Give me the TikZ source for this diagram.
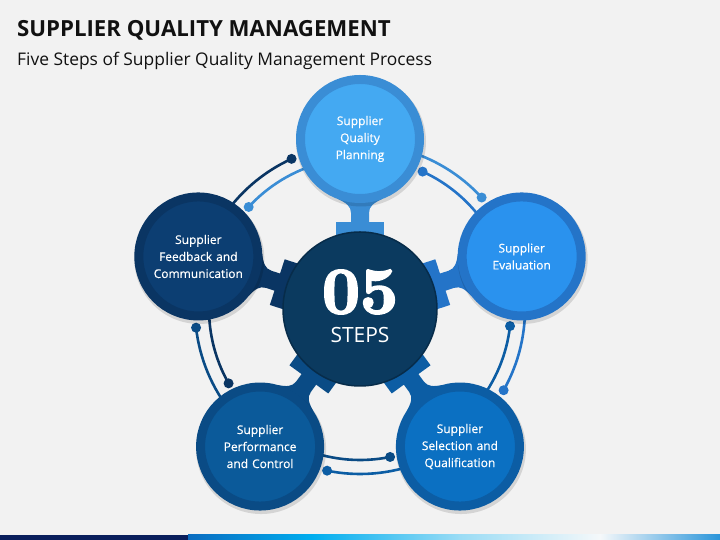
\documentclass[tikz,border=0pt]{standalone}
\usepackage{fontspec}
\newfontfamily\osans{Open Sans}
\newfontfamily\osemi{Open Sans}[FakeBold=0.5]
\newfontfamily\numfont{lmroman10-bold}[Extension=.otf, FakeBold=3]
\usetikzlibrary{calc}
\definecolor{bg}{HTML}{F2F2F2}
\definecolor{titlec}{HTML}{111111}
\definecolor{r1}{HTML}{3A8DD5}\definecolor{f1}{HTML}{44A9F2}
\definecolor{r2}{HTML}{2474C8}\definecolor{f2}{HTML}{2A92EE}
\definecolor{r3}{HTML}{0C5DA4}\definecolor{f3}{HTML}{0B70C2}
\definecolor{r4}{HTML}{0A4B85}\definecolor{f4}{HTML}{0B5A9A}
\definecolor{r5}{HTML}{0A3563}\definecolor{f5}{HTML}{0C3E72}
\definecolor{cfill}{HTML}{0B3A5F}\definecolor{cborder}{HTML}{072C4A}
\definecolor{bnavy}{HTML}{0A1F5C}
\definecolor{g1}{HTML}{0A6CC0}\definecolor{g2}{HTML}{00AEEF}
\definecolor{g3}{HTML}{9ADCF5}\definecolor{g4}{HTML}{F5F8FA}\definecolor{g5}{HTML}{2A95DA}
\tikzset{
  stepcirc/.style={circle, minimum size=119pt, inner sep=0pt, line width=9pt,
    text width=100pt, align=center, text=white, font=\osemi\fontsize{12}{17}\selectfont},
  linkline/.style={line width=2.6pt}
}
\newcommand\linkpair[3]{%
  \draw[linkline, #2] ($(C)+({#1-15}:165)$) arc[start angle={#1-15}, end angle={#1-72+24.5}, radius=165];
  \fill[#2] ($(C)+({#1-72+24.5}:165)$) circle (5);
  \draw[linkline, #3] ($(C)+({#1-24.5}:151)$) arc[start angle={#1-24.5}, end angle={#1-72+15}, radius=151];
  \fill[#3] ($(C)+({#1-24.5}:151)$) circle (5);
}
\newcommand\neckshape[2]{%
  \begin{scope}[shift={(C)}, rotate=#1]
    \fill[#2] (70,-24) rectangle (87,24);
    \fill[#2] (80,-9) -- (96,-9) .. controls (103,-9) and (106,-14) .. (110,-22) -- (122,-22)
      -- (122,22) -- (110,22) .. controls (106,14) and (103,9) .. (96,9) -- (80,9) -- cycle;
  \end{scope}}
\begin{document}
\begin{tikzpicture}[x=1pt,y=1pt]
\useasboundingbox (0,0) rectangle (720,540);
\fill[bg] (0,0) rectangle (720,540);
\coordinate (C) at (360,231);
% bottom bar
\fill[bnavy] (0,0) rectangle (188,5);
\shade[left color=g1, right color=g2] (188,0) rectangle (312.5,5);
\shade[left color=g2, right color=g3] (312,0) rectangle (459.5,5);
\shade[left color=g3, right color=g4] (459,0) rectangle (600.5,5);
\shade[left color=g4, right color=g5] (600,0) rectangle (720,5);
% titles
\node[anchor=base west, inner sep=0, font=\osans\bfseries\fontsize{22.2}{27}\selectfont, text=titlec] (title) at (17,503.5) {SUPPLIER QUALITY MANAGEMENT};
\node[anchor=base west, inner sep=0, font=\osans\fontsize{17.4}{21}\selectfont, text=titlec] (subtitle) at (17,474) {Five Steps of Supplier Quality Management Process};
% connectors between steps
\linkpair{90}{r1}{r2}
\linkpair{18}{r2}{r3}
\linkpair{-54}{r3}{r4}
\linkpair{-126}{r4}{r5}
\linkpair{162}{r5}{r1}
% necks / gear teeth
\neckshape{90}{r1}
\neckshape{18}{r2}
\neckshape{-54}{r3}
\neckshape{-126}{r4}
\neckshape{162}{r5}
% center
\node[circle, minimum size=154pt, inner sep=0pt, fill=cfill, draw=cborder, line width=1.5pt] (center) at (C) {};
\node[font=\numfont\fontsize{66}{66}\selectfont, text=white, inner sep=0pt] (num) at (360,248) {05};
\node[font=\osans\fontsize{21}{21}\selectfont, text=white, inner sep=0pt] (steps) at (360,205) {STEPS};
% shadows
\foreach \a in {90,18,-54,-126,162}
  \fill[black, opacity=0.12] ($(C)+(\a:170)+(1,-2.5)$) circle (65);
% steps
\node[stepcirc, fill=f1, draw=r1] (s1) at ($(C)+(90:170)$) {Supplier\\Quality\\Planning};
\node[stepcirc, fill=f2, draw=r2] (s2) at ($(C)+(18:170)$) {Supplier\\Evaluation};
\node[stepcirc, fill=f3, draw=r3] (s3) at ($(C)+(-54:170)$) {Supplier\\Selection and\\Qualification};
\node[stepcirc, fill=f4, draw=r4] (s4) at ($(C)+(-126:170)$) {Supplier\\Performance\\and Control};
\node[stepcirc, fill=f5, draw=r5] (s5) at ($(C)+(162:170)$) {Supplier\\Feedback and\\Communication};
\end{tikzpicture}
\end{document}
